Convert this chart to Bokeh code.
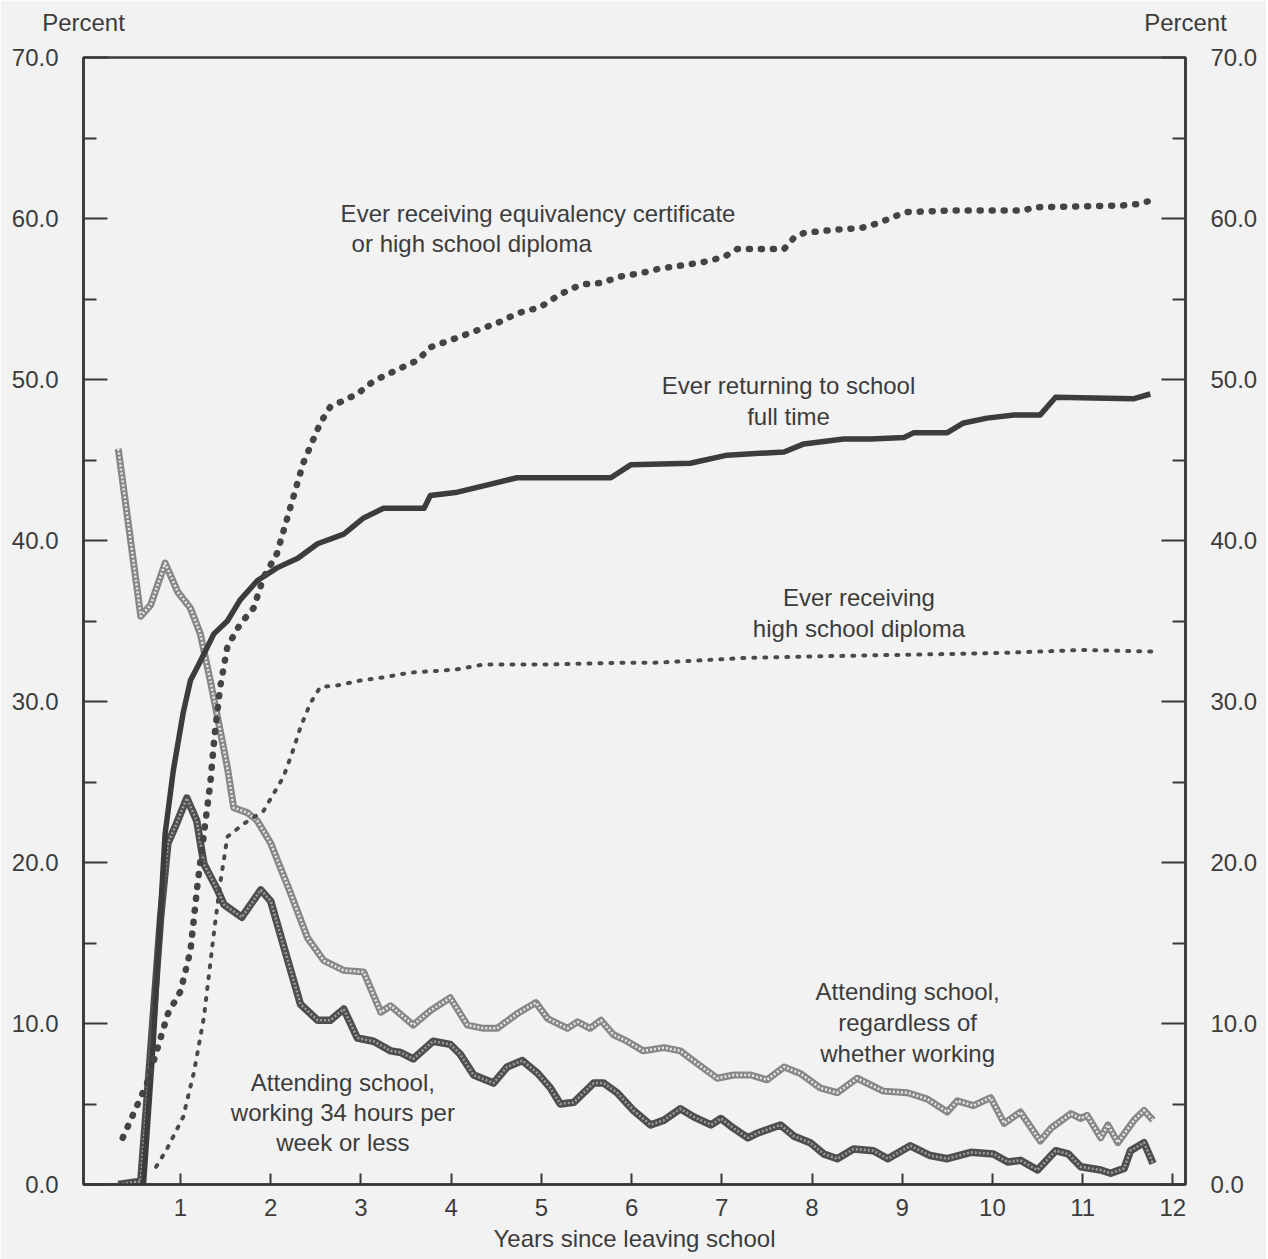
from bokeh.plotting import figure
from bokeh.models import FixedTicker, PrintfTickFormatter, LinearAxis, Label, Range1d
from bokeh.embed import file_html
from bokeh.resources import INLINE

# ---------------- data ----------------
x_ticks = [1, 2, 3, 4, 5, 6, 7, 8, 9, 10, 11, 12]
y_ticks = [0, 10, 20, 30, 40, 50, 60, 70]
y_minor = [5, 15, 25, 35, 45, 55, 65]
unit_ticks = [0, 1]
unit_labels = ["Percent", "Percent"]

equiv_x = [0.36, 0.63, 0.86, 1.0, 1.11, 1.19, 1.26, 1.33, 1.38, 1.44, 1.52, 1.66, 1.81, 1.92, 2.07, 2.22,
           2.36, 2.55, 2.66, 2.96, 3.14, 3.40, 3.63, 3.77, 4.07, 4.36, 4.51, 4.73, 4.99, 5.21, 5.44,
           5.66, 5.88, 6.10, 6.32, 6.58, 6.80, 7.02, 7.17, 7.39, 7.69, 7.80, 7.91, 8.24, 8.54, 8.73,
           8.95, 9.06, 9.57, 10.35, 10.46, 11.42, 11.61, 11.75]
equiv_y = [2.9, 6.3, 10.6, 12.0, 14.5, 18.7, 21.8, 24.9, 28.0, 30.9, 33.4, 34.8, 35.8, 37.7, 39.2, 42.1,
           44.8, 47.3, 48.3, 49.1, 49.9, 50.6, 51.2, 52.0, 52.6, 53.2, 53.5, 54.1, 54.5, 55.3, 55.9,
           56.0, 56.4, 56.6, 56.9, 57.1, 57.3, 57.6, 58.1, 58.1, 58.1, 58.8, 59.1, 59.3, 59.4, 59.7,
           60.2, 60.4, 60.5, 60.5, 60.7, 60.8, 60.9, 61.1]

full_x = [0.59, 0.70, 0.78, 0.83, 0.92, 1.03, 1.11, 1.22, 1.37, 1.52, 1.66, 1.85, 2.07, 2.30, 2.52,
          2.81, 3.03, 3.25, 3.70, 3.77, 4.07, 4.44, 4.73, 5.77, 5.99, 6.65, 7.06, 7.69, 7.91, 8.35,
          8.65, 9.02, 9.13, 9.50, 9.68, 9.94, 10.24, 10.53, 10.70, 11.56, 11.75]
full_y = [0.0, 9.0, 17.0, 21.8, 25.7, 29.3, 31.3, 32.5, 34.2, 35.0, 36.3, 37.5, 38.3, 38.9, 39.8,
          40.4, 41.4, 42.0, 42.0, 42.8, 43.0, 43.5, 43.9, 43.9, 44.7, 44.8, 45.3, 45.5, 46.0, 46.3,
          46.3, 46.4, 46.7, 46.7, 47.3, 47.6, 47.8, 47.8, 48.9, 48.8, 49.1]

dipl_x = [0.73, 0.85, 1.03, 1.15, 1.26, 1.37, 1.44, 1.52, 1.70, 1.92, 2.14, 2.25, 2.33, 2.44, 2.55,
          2.74, 2.99, 3.25, 3.55, 3.85, 4.07, 4.36, 5.10, 5.84, 6.21, 6.58, 7.24, 8.0, 9.0, 10.0,
          11.0, 11.78]
dipl_y = [1.1, 2.2, 4.2, 7.0, 10.4, 15.6, 18.7, 21.6, 22.4, 23.2, 25.3, 27.0, 28.4, 29.9, 30.9,
          31.0, 31.3, 31.5, 31.8, 31.9, 32.0, 32.3, 32.3, 32.4, 32.4, 32.5, 32.7, 32.8, 32.9, 33.0,
          33.2, 33.1]

attend_x = [0.31, 0.56, 0.67, 0.83, 0.97, 1.11, 1.22, 1.33, 1.44, 1.52, 1.59, 1.74, 1.85, 2.0, 2.22,
            2.41, 2.59, 2.81, 3.03, 3.22, 3.33, 3.58, 3.77, 3.99, 4.18, 4.36, 4.51, 4.73, 4.94,
            5.07, 5.29, 5.40, 5.54, 5.66, 5.80, 5.95, 6.13, 6.36, 6.54, 6.73, 6.95, 7.13, 7.32,
            7.50, 7.69, 7.87, 8.09, 8.28, 8.50, 8.79, 9.06, 9.28, 9.50, 9.61, 9.79, 9.98, 10.13,
            10.31, 10.53, 10.65, 10.87, 10.98, 11.05, 11.20, 11.28, 11.39, 11.57, 11.68, 11.78]
attend_y = [45.7, 35.3, 36.0, 38.6, 36.8, 35.8, 34.2, 31.3, 28.2, 25.9, 23.4, 23.1, 22.6, 21.2, 18.1,
            15.3, 13.9, 13.3, 13.2, 10.7, 11.1, 9.9, 10.8, 11.6, 9.9, 9.7, 9.7, 10.6, 11.3,
            10.3, 9.7, 10.1, 9.7, 10.2, 9.3, 8.9, 8.3, 8.5, 8.3, 7.5, 6.6, 6.8, 6.8,
            6.5, 7.3, 6.9, 6.0, 5.7, 6.6, 5.8, 5.7, 5.3, 4.5, 5.2, 4.9, 5.4, 3.8,
            4.5, 2.7, 3.5, 4.4, 4.1, 4.3, 2.9, 3.7, 2.6, 4.0, 4.6, 4.0]

work_x = [0.31, 0.56, 0.67, 0.78, 0.86, 0.94, 1.07, 1.18, 1.26, 1.41, 1.48, 1.68, 1.89, 2.0, 2.18,
          2.33, 2.52, 2.66, 2.81, 2.96, 3.14, 3.33, 3.44, 3.58, 3.80, 3.99, 4.10, 4.25, 4.47, 4.62,
          4.79, 4.96, 5.10, 5.21, 5.36, 5.58, 5.69, 5.84, 6.02, 6.21, 6.36, 6.54, 6.69, 6.88, 6.99,
          7.13, 7.29, 7.40, 7.65, 7.80, 7.98, 8.13, 8.28, 8.46, 8.68, 8.84, 9.09, 9.31, 9.50, 9.76,
          10.01, 10.17, 10.31, 10.50, 10.70, 10.84, 10.98, 11.20, 11.31, 11.46, 11.53, 11.68, 11.78]
work_y = [0.0, 0.2, 8.3, 16.6, 21.2, 22.2, 24.0, 22.6, 19.9, 18.3, 17.4, 16.6, 18.3, 17.6, 14.1,
          11.2, 10.2, 10.2, 10.9, 9.1, 8.9, 8.3, 8.2, 7.8, 8.9, 8.7, 8.1, 6.8, 6.3, 7.3,
          7.7, 6.9, 6.0, 5.0, 5.1, 6.3, 6.3, 5.7, 4.6, 3.7, 4.0, 4.7, 4.2, 3.7, 4.1,
          3.5, 2.9, 3.2, 3.7, 3.0, 2.6, 1.9, 1.6, 2.2, 2.1, 1.6, 2.4, 1.8, 1.6, 2.0,
          1.9, 1.4, 1.5, 0.9, 2.1, 1.9, 1.1, 0.9, 0.7, 1.0, 2.1, 2.6, 1.3]

# ---------------- figure ----------------
W, H = 1266, 1259
BG = "#f2f2f2"
INK = "#383838"
TXT = "#3c3c3c"
FONT = "Liberation Sans"
FS = "24px"

p = figure(width=W, height=H, x_range=Range1d(-0.075, 12.14), y_range=Range1d(0, 70),
           output_backend="svg", toolbar_location=None, title=None,
           min_border_left=83, min_border_right=W - 1185, min_border_top=57, min_border_bottom=H - 1184)
p.background_fill_color = BG
p.border_fill_color = BG
p.outline_line_color = INK
p.outline_line_width = 2.5
p.grid.visible = False
p.extra_x_ranges = {"unit": Range1d(0, 1)}

def style_axis(ax):
    ax.axis_line_color = INK
    ax.axis_line_width = 2.5
    ax.major_tick_line_color = INK
    ax.minor_tick_line_color = INK
    ax.major_tick_line_width = 2
    ax.minor_tick_line_width = 2
    ax.major_tick_out = 0
    ax.minor_tick_out = 0
    ax.major_label_text_font = FONT
    ax.major_label_text_font_size = FS
    ax.major_label_text_color = TXT

xa = p.xaxis[0]
style_axis(xa)
xa.ticker = FixedTicker(ticks=x_ticks, minor_ticks=[])
xa.major_tick_in = 11
xa.major_label_standoff = 14
xa.axis_label = "Years since leaving school"
xa.axis_label_text_font = FONT
xa.axis_label_text_font_size = FS
xa.axis_label_text_font_style = "normal"
xa.axis_label_text_color = TXT
xa.axis_label_standoff = 6

ya = p.yaxis[0]
style_axis(ya)
ya.ticker = FixedTicker(ticks=y_ticks, minor_ticks=y_minor)
ya.formatter = PrintfTickFormatter(format="%.1f")
ya.major_tick_in = 24
ya.minor_tick_in = 13
ya.major_label_standoff = 25

yr = LinearAxis()
style_axis(yr)
yr.ticker = FixedTicker(ticks=y_ticks, minor_ticks=y_minor)
yr.formatter = PrintfTickFormatter(format="%.1f")
yr.major_tick_in = 24
yr.minor_tick_in = 13
yr.major_label_standoff = 25
p.add_layout(yr, "right")

# "Percent" unit labels above both value axes
ua = LinearAxis(x_range_name="unit")
style_axis(ua)
ua.ticker = FixedTicker(ticks=unit_ticks, minor_ticks=[])
ua.major_label_overrides = dict(zip(unit_ticks, unit_labels))
ua.axis_line_color = None
ua.major_tick_line_color = None
ua.minor_tick_line_color = None
ua.major_tick_in = 0
ua.major_label_standoff = 22
p.add_layout(ua, "above")

# ---------------- series ----------------
# Attending school, regardless of whether working (light hatched)
p.line(attend_x, attend_y, line_color="#878787", line_width=7, line_join="round")
p.line(attend_x, attend_y, line_color="#e8e8e8", line_width=2.5, line_dash="2 2", line_join="round")

# Attending school, working 34 hours per week or less (dark hatched)
p.line(work_x, work_y, line_color="#4e4e4e", line_width=7.5, line_join="round")
p.line(work_x, work_y, line_color="#9c9c9c", line_width=2.5, line_dash="2 2", line_join="round")

# Ever receiving high school diploma (dash-dot small)
p.line(dipl_x, dipl_y, line_color="#4a4a4a", line_width=4, line_dash="2 9", line_cap="round")

# Ever returning to school full time (solid)
p.line(full_x, full_y, line_color="#3c3c3c", line_width=5.5, line_join="round")

# Ever receiving equivalency certificate or HS diploma (heavy dots)
p.line(equiv_x, equiv_y, line_color="#444444", line_width=6.5, line_dash="1 11", line_cap="round")

# ---------------- texts ----------------
def lab(x, y, t, align="center"):
    p.add_layout(Label(x=x, y=y, text=t, text_font=FONT, text_font_size=FS, text_color=TXT,
                       text_align=align, text_baseline="middle"))

lab(2.775, 60.3, "Ever receiving equivalency certificate", "left")
lab(2.897, 58.45, "or high school diploma", "left")
lab(7.74, 49.63, "Ever returning to school")
lab(7.74, 47.7, "full time")
lab(8.52, 36.46, "Ever receiving")
lab(8.52, 34.53, "high school diploma")
lab(9.06, 11.99, "Attending school,")
lab(9.06, 10.06, "regardless of")
lab(9.06, 8.14, "whether working")
lab(2.80, 6.34, "Attending school,")
lab(2.80, 4.47, "working 34 hours per")
lab(2.80, 2.61, "week or less")

open("out.html", "w").write(file_html(p, INLINE))
